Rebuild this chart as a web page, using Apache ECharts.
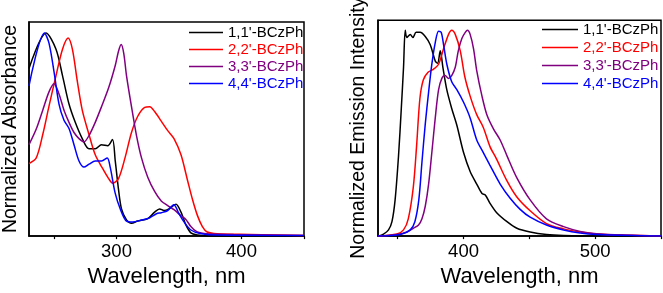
<!DOCTYPE html>
<html><head><meta charset="utf-8">
<script src="https://cdn.jsdelivr.net/npm/echarts@6/dist/echarts.min.js"></script>
<style>html,body{margin:0;padding:0;background:#fff}#c{width:663px;height:293px}</style>
</head><body><div id="c"></div>
<script>
// ---- Data: absorbance (left panel) ----
const names = ["1,1'-BCzPh", "2,2'-BCzPh", "3,3'-BCzPh", "4,4'-BCzPh"];
const colors = ['#000000', '#ff0000', '#800080', '#0000ff'];

const absX11 = [230,243.7,251.6,256.8,262,267,272.6,278,283,288,293,296.8,299,301.6,304,308,312,317,325,330.5,334.5,338,342,347.6,351.6,355.5,359.5,364.7,372,400,450];
const absY11 = [0.825,1.0,0.92,0.79,0.65,0.56,0.48,0.43,0.43,0.45,0.445,0.476,0.37,0.23,0.134,0.08,0.063,0.074,0.086,0.118,0.134,0.126,0.134,0.157,0.118,0.055,0.016,0.005,0.001,0,0];

const absX22 = [230,235.8,241,246,251.6,256.8,261.3,264.7,268.7,272.6,278,283,288.4,293.7,297,301.6,306.8,312,317,322.6,326.6,330.5,335.8,341,346,351.6,356.8,360.8,364.7,368.7,372.6,380.5,406.8,450];
const absY22 = [0.357,0.385,0.5,0.64,0.79,0.92,0.975,0.92,0.76,0.62,0.5,0.4,0.338,0.283,0.26,0.283,0.385,0.51,0.59,0.634,0.637,0.613,0.566,0.519,0.48,0.4,0.275,0.18,0.102,0.047,0.02,0.011,0.008,0.003];

const absX33 = [230,235.8,241,246,250,254,258,262,266,270,274,278,283,288,293.7,299,301.6,303.7,305.8,308,312,316,320,325,330.5,335.8,341,346,351.6,355.5,359.5,364.7,372.6,393.7,450];
const absY33 = [0.45,0.527,0.62,0.71,0.75,0.7,0.62,0.56,0.51,0.48,0.464,0.495,0.56,0.637,0.73,0.84,0.91,0.943,0.9,0.79,0.637,0.495,0.385,0.29,0.22,0.173,0.15,0.13,0.1,0.082,0.047,0.02,0.011,0.008,0.003];

const absX44 = [230,242.4,246,250,254,258,262,266,270,274,278,283,288,292.6,295,299,303,308,313,320,326.6,332,335.8,341,345.8,350,354,359.5,367,380.5,450];
const absY44 = [0.74,1.0,0.95,0.81,0.65,0.57,0.53,0.45,0.37,0.34,0.354,0.37,0.37,0.385,0.338,0.21,0.134,0.074,0.07,0.079,0.09,0.11,0.115,0.126,0.154,0.11,0.07,0.03,0.013,0.005,0.003];

// ---- Data: emission (right panel) ----
const emX11 = [335,339.2,343,345.6,348,350.6,352.7,354.4,355.7,356.9,359.5,361.5,364,367,370.9,374.7,378.5,380.3,382.3,384.3,387.3,391,395,400,405,410,414,416.5,420,425,433,440.5,450.6,463,476,500,550];
const emY11 = [0,0.01,0.03,0.07,0.176,0.39,0.62,0.82,1.0,0.965,0.98,0.965,0.99,0.99,0.97,0.93,0.85,0.84,0.9,0.82,0.71,0.62,0.536,0.406,0.314,0.253,0.207,0.2,0.16,0.115,0.07,0.038,0.02,0.008,0.003,0,0];

const emX22 = [335,349.4,354.4,358,361.8,364.3,366.8,369.4,373,377,381,384.8,388.6,391,393.7,397.5,401,405,410,415,420,425,433,440.5,450.6,463,476,488.6,501,521.5,550];
const emY22 = [0,0.01,0.03,0.084,0.237,0.436,0.666,0.758,0.796,0.81,0.835,0.91,0.98,1.0,0.98,0.9,0.773,0.68,0.59,0.528,0.436,0.375,0.268,0.19,0.123,0.061,0.035,0.02,0.01,0.005,0];

const emX33 = [335,349.4,357,361.8,365.8,368.4,370.9,373.4,375.9,378.5,381,383.5,386,388.6,391,393.7,396,398.7,401.3,403,405,407.6,410,414,417.7,422.8,427.8,433,440.5,450.6,463,476,488.6,501,521.5,550];
const emY33 = [0,0.008,0.02,0.038,0.054,0.084,0.145,0.25,0.406,0.574,0.71,0.766,0.78,0.766,0.78,0.82,0.9,0.96,0.99,1.0,0.98,0.91,0.804,0.68,0.59,0.52,0.467,0.39,0.283,0.176,0.084,0.046,0.023,0.012,0.005,0];

const emX44 = [335,352,359.5,363,366,368.4,370.9,373.4,375.9,378.5,381,383,384.8,387.3,391,395,400,405,410,415,420,427.8,435.4,443,450.6,463,476,488.6,501,550];
const emY44 = [0,0.008,0.03,0.07,0.176,0.36,0.544,0.697,0.835,0.94,0.995,0.99,0.93,0.835,0.75,0.71,0.65,0.574,0.467,0.406,0.345,0.253,0.184,0.13,0.092,0.054,0.03,0.015,0.008,0];

// ---- Axis ticks ----
const absTicks = [250, 300, 350, 400, 450];
const absLabels = [300, 400];
const emTicks = [350, 400, 450, 500, 550];
const emLabels = [400, 500];

const FONT = 'Liberation Sans, Arial, sans-serif';
const zip = (xs, ys) => xs.map((x, i) => [x, ys[i]]);

const absData = [zip(absX11, absY11), zip(absX22, absY22), zip(absX33, absY33), zip(absX44, absY44)];
const emData = [zip(emX11, emY11), zip(emX22, emY22), zip(emX33, emY33), zip(emX44, emY44)];

function xAxis(idx, min, max, ticks, labels) {
  return {
    type: 'value', gridIndex: idx, min: min, max: max,
    name: 'Wavelength, nm', nameLocation: 'middle', nameGap: 20,
    nameTextStyle: { fontFamily: FONT, fontSize: 22, color: '#000' },
    axisLine: { show: true, onZero: false, lineStyle: { color: '#000', width: 1.5 } },
    axisTick: { show: true, inside: false, length: 3, customValues: ticks, lineStyle: { color: '#000', width: 1.2 } },
    axisLabel: { show: true, customValues: labels, margin: 6, fontFamily: FONT, fontSize: 18.5, color: '#000' },
    splitLine: { show: false }
  };
}
function yAxis(idx, name, gap, max) {
  return {
    type: 'value', gridIndex: idx, min: 0, max: max,
    name: name, nameLocation: 'middle', nameGap: gap,
    nameTextStyle: { fontFamily: FONT, fontSize: 19.5, color: '#000' },
    axisLine: { show: true, lineStyle: { color: '#000', width: 1.5 } },
    axisTick: { show: false }, axisLabel: { show: false }, splitLine: { show: false }
  };
}

const series = [];
names.forEach((n, i) => {
  series.push({ name: n, type: 'line', xAxisIndex: 0, yAxisIndex: 0, data: absData[i], showSymbol: false, symbol: 'none',
    smooth: 0.3, lineStyle: { color: colors[i], width: 1.5 }, itemStyle: { color: colors[i] }, animation: false });
});
names.forEach((n, i) => {
  series.push({ name: n, type: 'line', xAxisIndex: 1, yAxisIndex: 1, data: emData[i], showSymbol: false, symbol: 'none',
    smooth: 0.3, lineStyle: { color: colors[i], width: 1.5 }, itemStyle: { color: colors[i] }, animation: false });
});

function legend(left, top, w, gap) {
  return {
    orient: 'vertical', left: left, top: top, icon: 'rect', itemWidth: w, itemHeight: 1.5, itemGap: gap,
    selectedMode: false, padding: 0,
    data: names.map((n, i) => ({ name: n, textStyle: { color: colors[i] } })),
    textStyle: { fontFamily: FONT, fontSize: 15, lineHeight: 15 }
  };
}

const chart = echarts.init(document.getElementById('c'), null, { renderer: 'canvas' });
chart.setOption({
  animation: false,
  backgroundColor: '#fff',
  grid: [
    { left: 26, right: 359, top: 22, bottom: 48, show: true, borderColor: '#000', borderWidth: 1.5, containLabel: false },
    { left: 378, right: 2, top: 17, bottom: 48, show: true, borderColor: '#000', borderWidth: 1.5, containLabel: false }
  ],
  xAxis: [xAxis(0, 230, 450, absTicks, absLabels), xAxis(1, 335, 550, emTicks, emLabels)],
  yAxis: [yAxis(0, 'Normalized Absorbance', 8, 1.054), yAxis(1, 'Normalized Emission Intensity', 9, 1.049)],
  legend: [legend(189, 25, 34, 2), legend(542, 22, 36, 3)],
  series: series
});
</script></body></html>
